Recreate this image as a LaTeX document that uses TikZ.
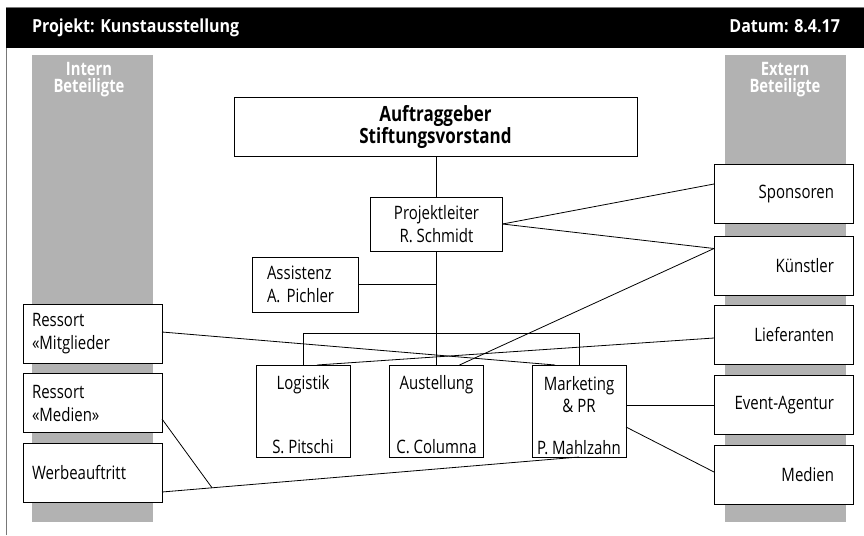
\documentclass[tikz,border=0pt]{standalone}
\usepackage{fontspec}
\setmainfont[FakeStretch=0.81]{Open Sans}
\newfontfamily\headfont[FakeStretch=0.89]{Open Sans}
\newfontfamily\colfont[FakeStretch=0.8]{Open Sans}
\usetikzlibrary{calc}
\definecolor{bargray}{RGB}{178,178,178}
\definecolor{framegray}{RGB}{120,120,120}
\begin{document}
\begin{tikzpicture}[x=1pt,y=-1pt,
  every node/.style={inner sep=0pt, outer sep=0pt},
  box/.style={draw=black, line width=0.9pt, fill=white, rectangle, inner sep=0pt},
  txt/.style={font=\fontsize{18.5}{23}\selectfont},
  boldtxt/.style={font=\bfseries\fontsize{21}{22}\selectfont},
  headtxt/.style={text=white, font=\headfont\bfseries\fontsize{18}{20}\selectfont},
  bartxt/.style={text=white, align=center, font=\colfont\bfseries\fontsize{18.5}{17.3}\selectfont},
  sidebox/.style={box, txt, minimum width=139pt, minimum height=59pt},
  leftbox/.style={sidebox, text width=121pt, align=left},
  rightbox/.style={sidebox, text width=101pt, align=right},
  unitbox/.style={box, minimum width=94pt, minimum height=92pt},
  link/.style={draw=black, line width=0.8pt}
]
\useasboundingbox (0,0) rectangle (864,535);

% page frame and title bar
\draw[framegray, line width=0.8pt] (6,535) -- (6,7) -- (870,7);
\fill[black] (6,8) rectangle (870,48);
\node[headtxt, anchor=base west] (title) at (32,33) {Projekt: Kunstausstellung};
\node[headtxt, anchor=base east] (date) at (840,33) {Datum: 8.4.17};

% side columns
\fill[bargray] (32,55) rectangle (153,522);
\fill[bargray] (725,55) rectangle (846,522);
\node[bartxt, anchor=north] (intern) at (89,62) {Intern\\Beteiligte};
\node[bartxt, anchor=north] (extern) at (785,62) {Extern\\Beteiligte};

% project hierarchy
\node[box, boldtxt, align=center, minimum width=403pt, minimum height=59pt] (auftrag) at (435.5,126.5) {Auftraggeber\\Stiftungsvorstand};
\node[box, txt, align=center, minimum width=132pt, minimum height=54pt] (pl) at (436.5,224) {Projektleiter\\R. Schmidt};
\node[box, txt, align=left, text width=76pt, minimum width=106pt, minimum height=55pt] (assist) at (305,284.5) {Assistenz\\A. Pichler};

\node[unitbox] (log) at (303,411) {};
\node[unitbox] (aus) at (436.5,411) {};
\node[unitbox] (mark) at (579,411) {};
\node[txt, anchor=base] (logA) at ($(log.north)+(0,24)$) {Logistik};
\node[txt, anchor=base] (logB) at ($(log.south)+(0,-4)$) {S. Pitschi};
\node[txt, anchor=base] (ausA) at ($(aus.north)+(0,24)$) {Austellung};
\node[txt, anchor=base] (ausB) at ($(aus.south)+(0,-4)$) {C. Columna};
\node[txt, anchor=base] (markA) at ($(mark.north)+(0,25)$) {Marketing};
\node[txt, anchor=base] (markB) at ($(mark.north)+(0,47)$) {\& PR};
\node[txt, anchor=base] (markC) at ($(mark.south)+(0,-3)$) {P. Mahlzahn};

% internal stakeholders
\node[leftbox] (mitg) at (92.5,333.5) {Ressort\\«Mitglieder};
\node[leftbox] (medR) at (92.5,403) {Ressort\\«Medien»};
\node[leftbox] (werbe) at (92.5,473) {Werbeauftritt};

% external stakeholders
\node[rightbox] (spons) at (783.5,194) {Sponsoren};
\node[rightbox] (kuen) at (783.5,265.5) {Künstler};
\node[rightbox] (lief) at (783.5,335) {Lieferanten};
\node[rightbox] (event) at (783.5,405) {Event-Agentur};
\node[rightbox] (medX) at (783.5,475) {Medien};

% line of command
\coordinate (bar) at (436.5,333);
\draw[link] (auftrag.south -| pl.north) -- (pl.north);
\draw[link] (pl.south) -- (aus.north);
\draw[link] (assist.east) -- (assist.east -| pl.south);
\draw[link] (log.north) -- (log.north |- bar) -- (mark.north |- bar) -- (mark.north);

% stakeholder relations
\draw[link] (pl.east) -- ([yshift=10pt]spons.west);
\draw[link] (pl.east) -- ([yshift=17pt]kuen.west);
\draw[link] ([xshift=23pt]aus.north) -- ([yshift=17pt]kuen.west);
\draw[link] ([yshift=1.5pt]mitg.east) -- ([xshift=-24pt]mark.north);
\draw[link] ([yshift=-3pt]lief.west) -- ([xshift=14pt]log.north);
\draw[link] (mark.east |- event.west) -- (event.west);
\draw[link] ([yshift=-16pt]mark.east) -- ([yshift=3pt]medX.west);
\draw[link] ([yshift=-19pt]werbe.east) -- coordinate[pos=0.12] (junc) (mark.south);
\draw[link] ([yshift=-16pt]medR.east) -- (junc);
\end{tikzpicture}
\end{document}
